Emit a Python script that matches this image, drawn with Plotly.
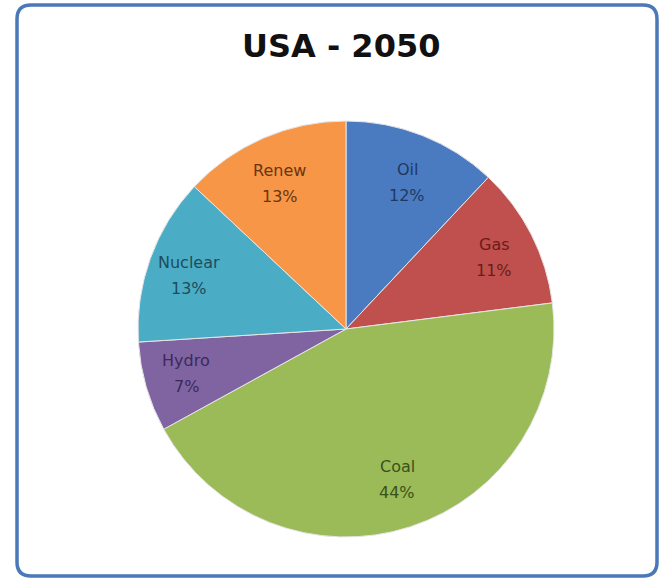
import math
import plotly.graph_objects as go

labels = ["Oil", "Gas", "Coal", "Hydro", "Nuclear", "Renew"]
values = [12, 11, 44, 7, 13, 13]
colors = ["#4A7BC0", "#C0504D", "#9BBB59", "#8064A2", "#4BACC6", "#F79646"]
text_colors = ["#1F3864", "#6B1C1A", "#3A5218", "#3B2A5A", "#1D4C5C", "#6B3510"]
title = "USA - 2050"

W, H = 662, 579
cx, cy, r = 346, 329, 208

fig = go.Figure(go.Pie(
    labels=labels,
    values=values,
    sort=False,
    direction="clockwise",
    rotation=0,
    marker=dict(colors=colors, line=dict(color="#E6E6E6", width=1)),
    textinfo="none",
    hoverinfo="label+percent",
    showlegend=False,
    domain=dict(x=[(cx - r) / W, (cx + r) / W], y=[1 - (cy + r) / H, 1 - (cy - r) / H]),
))

# data labels placed at the middle angle of each slice
total = sum(values)
annotations = []
cum = 0
fx, fy = 0.80, 0.76
for lab, v, tc in zip(labels, values, text_colors):
    mid = (cum + v / 2) / total * 2 * math.pi
    cum += v
    px = cx + fx * r * math.sin(mid)
    py = cy - fy * r * math.cos(mid)
    pct = round(v / total * 100)
    for txt, shift in ((lab, 13), (f"{pct}%", -13)):
        annotations.append(dict(
            text=txt, x=px / W, y=1 - py / H, xref="paper", yref="paper",
            yshift=shift, showarrow=False, xanchor="center", yanchor="middle",
            font=dict(family="DejaVu Sans, sans-serif", size=16, color=tc)))

annotations.append(dict(text=f"<b>{title}</b>", x=341 / W, y=1 - 46 / H,
                        xref="paper", yref="paper", showarrow=False,
                        xanchor="center", yanchor="middle",
                        font=dict(family="DejaVu Sans, sans-serif", size=32, color="#111111")))

# rounded border of the chart area
x0, y0, x1, y1, rr = 17 / W, 1 - 5 / H, 657 / W, 1 - 576 / H, 14
rx, ry = rr / W, rr / H
path = (f"M {x0+rx},{y0} L {x1-rx},{y0} Q {x1},{y0} {x1},{y0-ry} "
        f"L {x1},{y1+ry} Q {x1},{y1} {x1-rx},{y1} L {x0+rx},{y1} "
        f"Q {x0},{y1} {x0},{y1+ry} L {x0},{y0-ry} Q {x0},{y0} {x0+rx},{y0} Z")

fig.update_layout(
    width=W, height=H,
    margin=dict(l=0, r=0, t=0, b=0),
    paper_bgcolor="white",
    plot_bgcolor="white",
    shapes=[dict(type="path", xref="paper", yref="paper", path=path,
                 line=dict(color="#4A78B8", width=3.5), fillcolor="rgba(0,0,0,0)")],
    annotations=annotations,
)

fig.write_html("out.html")
